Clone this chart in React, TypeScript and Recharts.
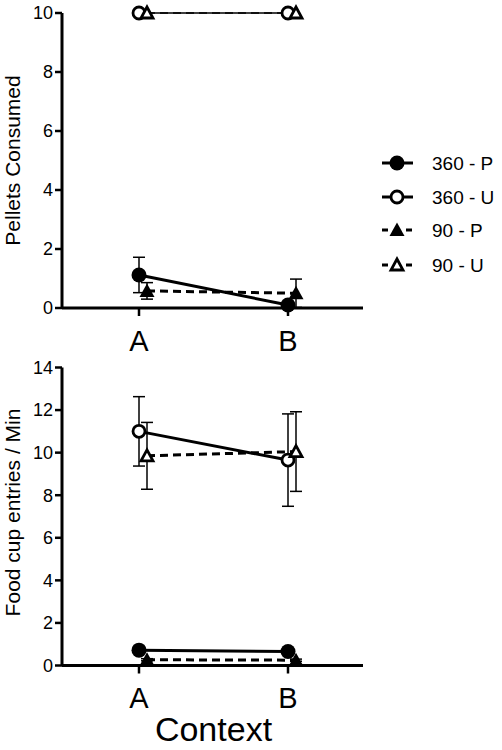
import React from "react";
import { LineChart, Line, XAxis, YAxis, ErrorBar } from "recharts";

const FONT = "'Liberation Sans', Arial, Helvetica, sans-serif";

const contexts = ["A", "B"];

// top panel: pellets consumed
const pellets360P = [1.12, 0.1];
const pellets360PErr = [0.6, 0.1];
const pellets360U = [10, 10];
const pellets90P = [0.58, 0.5];
const pellets90PErr = [0.28, 0.48];
const pellets90U = [10, 10];

// bottom panel: food cup entries / min
const food360P = [0.72, 0.66];
const food360PErr = [0.08, 0.08];
const food360U = [11.0, 9.65];
const food360UErr = [1.63, 2.17];
const food90P = [0.27, 0.25];
const food90PErr = [0.05, 0.05];
const food90U = [9.85, 10.05];
const food90UErr = [1.57, 1.87];

const pelletTicks = [0, 2, 4, 6, 8, 10];
const foodTicks = [0, 2, 4, 6, 8, 10, 12, 14];

const seriesNames = ["360 - P", "360 - U", "90 - P", "90 - U"];

const pelletData = contexts.map((c, i) => ({
  ctx: c,
  p360: pellets360P[i],
  p360e: pellets360PErr[i],
  u360: pellets360U[i],
  p90: pellets90P[i],
  p90e: pellets90PErr[i],
  u90: pellets90U[i],
}));

const foodData = contexts.map((c, i) => ({
  ctx: c,
  p360: food360P[i],
  p360e: food360PErr[i],
  u360: food360U[i],
  u360e: food360UErr[i],
  p90: food90P[i],
  p90e: food90PErr[i],
  u90: food90U[i],
  u90e: food90UErr[i],
}));

type Kind = "fillCircle" | "openCircle" | "fillTri" | "openTri";

function Marker({ cx, cy, kind }: { cx: number; cy: number; kind: Kind }) {
  if (cx == null || cy == null) return null;
  if (kind === "fillCircle") return <circle cx={cx} cy={cy} r={7.5} fill="#000" />;
  if (kind === "openCircle")
    return <circle cx={cx} cy={cy} r={6} fill="#fff" stroke="#000" strokeWidth={2.8} />;
  const pts = `${cx},${cy - 7.5} ${cx - 7.5},${cy + 6} ${cx + 7.5},${cy + 6}`;
  if (kind === "fillTri") return <polygon points={pts} fill="#000" />;
  const pts2 = `${cx},${cy - 6} ${cx - 6},${cy + 5} ${cx + 6},${cy + 5}`;
  return <polygon points={pts2} fill="#fff" stroke="#000" strokeWidth={2.8} strokeLinejoin="miter" />;
}

const dotOf = (kind: Kind) => (props: any) => (
  <Marker key={`${kind}-${props.index}`} cx={props.cx} cy={props.cy} kind={kind} />
);

function YTitle({ viewBox, text, shift = 0 }: any) {
  const cy = viewBox.y + viewBox.height / 2 + shift;
  return (
    <text
      x={20}
      y={cy}
      transform={`rotate(-90, 20, ${cy})`}
      textAnchor="middle"
      fontSize={21}
      fontFamily={FONT}
      fill="#000"
    >
      {text}
    </text>
  );
}

function XTitle({ viewBox }: any) {
  return (
    <text
      x={viewBox.x + viewBox.width / 2 + 1}
      y={viewBox.y + viewBox.height - 9}
      textAnchor="middle"
      fontSize={34}
      fontFamily={FONT}
      fill="#000"
    >
      Context
    </text>
  );
}

const legendKinds: Kind[] = ["fillCircle", "openCircle", "fillTri", "openTri"];

function LegendBox() {
  const ys = [18, 52, 85, 120];
  return (
    <svg width={127} height={140} style={{ display: "block" }}>
      {seriesNames.map((name, i) => {
        const y = ys[i];
        const dashed = i >= 2;
        return (
          <g key={name}>
            {dashed ? (
              <>
                <line x1={7} y1={y} x2={13} y2={y} stroke="#000" strokeWidth={3} />
                <line x1={31} y1={y} x2={37} y2={y} stroke="#000" strokeWidth={3} />
              </>
            ) : (
              <line x1={7} y1={y} x2={38} y2={y} stroke="#000" strokeWidth={3} />
            )}
            <Marker cx={22} cy={y} kind={legendKinds[i]} />
            <text x={57} y={y} dy="0.35em" fontSize={19} fontFamily={FONT} fill="#000">
              {name}
            </text>
          </g>
        );
      })}
    </svg>
  );
}

const tickStyle = { fontSize: 18, fill: "#000", fontFamily: FONT };
const xTickStyle = { fontSize: 29, fill: "#000", fontFamily: FONT };
const axisLine = { stroke: "#000", strokeWidth: 3 };
const tickLine = { stroke: "#000", strokeWidth: 2.5 };

export default function App() {
  return (
    <div style={{ position: "absolute", left: 0, top: 0, width: 502, height: 750, background: "#fff" }}>
      <div style={{ position: "absolute", left: 0, top: 0 }}>
        <LineChart width={502} height={360} data={pelletData} margin={{ top: 13, right: 139, left: 0, bottom: 0 }}>
          <XAxis
            dataKey="ctx"
            xAxisId="circ"
            padding={{ left: 77, right: 75 }}
            height={52}
            tick={xTickStyle}
            tickSize={8}
            tickMargin={14}
            axisLine={axisLine}
            tickLine={tickLine}
          />
          <XAxis dataKey="ctx" xAxisId="tri" hide padding={{ left: 85, right: 67 }} />
          <YAxis
            domain={[0, 10]}
            ticks={pelletTicks}
            width={62}
            tick={tickStyle}
            tickSize={7}
            axisLine={axisLine}
            tickLine={tickLine}
            label={<YTitle text="Pellets Consumed" />}
          />
          <Line xAxisId="circ" dataKey="p360" name={seriesNames[0]} stroke="#000" strokeWidth={3} dot={dotOf("fillCircle")} activeDot={false} isAnimationActive={false}>
            <ErrorBar dataKey="p360e" direction="y" width={6} stroke="#000" strokeWidth={1.5} />
          </Line>
          <Line xAxisId="circ" dataKey="u360" name={seriesNames[1]} stroke="#000" strokeWidth={1.5} dot={dotOf("openCircle")} activeDot={false} isAnimationActive={false} />
          <Line xAxisId="tri" dataKey="p90" name={seriesNames[2]} stroke="#000" strokeWidth={3} strokeDasharray="8 5" dot={dotOf("fillTri")} activeDot={false} isAnimationActive={false}>
            <ErrorBar dataKey="p90e" direction="y" width={6} stroke="#000" strokeWidth={1.5} />
          </Line>
          <Line xAxisId="tri" dataKey="u90" name={seriesNames[3]} stroke="#000" strokeWidth={1.5} strokeDasharray="8 5" dot={dotOf("openTri")} activeDot={false} isAnimationActive={false} />
        </LineChart>
      </div>
      <div style={{ position: "absolute", left: 375, top: 145 }}>
        <LegendBox />
      </div>
      <div style={{ position: "absolute", left: 0, top: 340 }}>
        <LineChart width={502} height={410} data={foodData} margin={{ top: 27.5, right: 139, left: 0, bottom: 0 }}>
          <XAxis
            dataKey="ctx"
            xAxisId="circ"
            padding={{ left: 77, right: 75 }}
            height={84.5}
            tick={xTickStyle}
            tickSize={8}
            tickMargin={14}
            axisLine={axisLine}
            tickLine={tickLine}
            label={<XTitle />}
          />
          <XAxis dataKey="ctx" xAxisId="tri" hide padding={{ left: 85, right: 67 }} />
          <YAxis
            domain={[0, 14]}
            ticks={foodTicks}
            width={62}
            tick={tickStyle}
            tickSize={7}
            axisLine={axisLine}
            tickLine={tickLine}
            label={<YTitle text="Food cup entries / Min" shift={-4} />}
          />
          <Line xAxisId="circ" dataKey="p360" stroke="#000" strokeWidth={3} dot={dotOf("fillCircle")} activeDot={false} isAnimationActive={false}>
            <ErrorBar dataKey="p360e" direction="y" width={6} stroke="#000" strokeWidth={1.5} />
          </Line>
          <Line xAxisId="circ" dataKey="u360" stroke="#000" strokeWidth={3} dot={dotOf("openCircle")} activeDot={false} isAnimationActive={false}>
            <ErrorBar dataKey="u360e" direction="y" width={6} stroke="#000" strokeWidth={1.5} />
          </Line>
          <Line xAxisId="tri" dataKey="p90" stroke="#000" strokeWidth={3} strokeDasharray="8 5" dot={dotOf("fillTri")} activeDot={false} isAnimationActive={false}>
            <ErrorBar dataKey="p90e" direction="y" width={6} stroke="#000" strokeWidth={1.5} />
          </Line>
          <Line xAxisId="tri" dataKey="u90" stroke="#000" strokeWidth={3} strokeDasharray="8 5" dot={dotOf("openTri")} activeDot={false} isAnimationActive={false}>
            <ErrorBar dataKey="u90e" direction="y" width={6} stroke="#000" strokeWidth={1.5} />
          </Line>
        </LineChart>
      </div>
    </div>
  );
}
